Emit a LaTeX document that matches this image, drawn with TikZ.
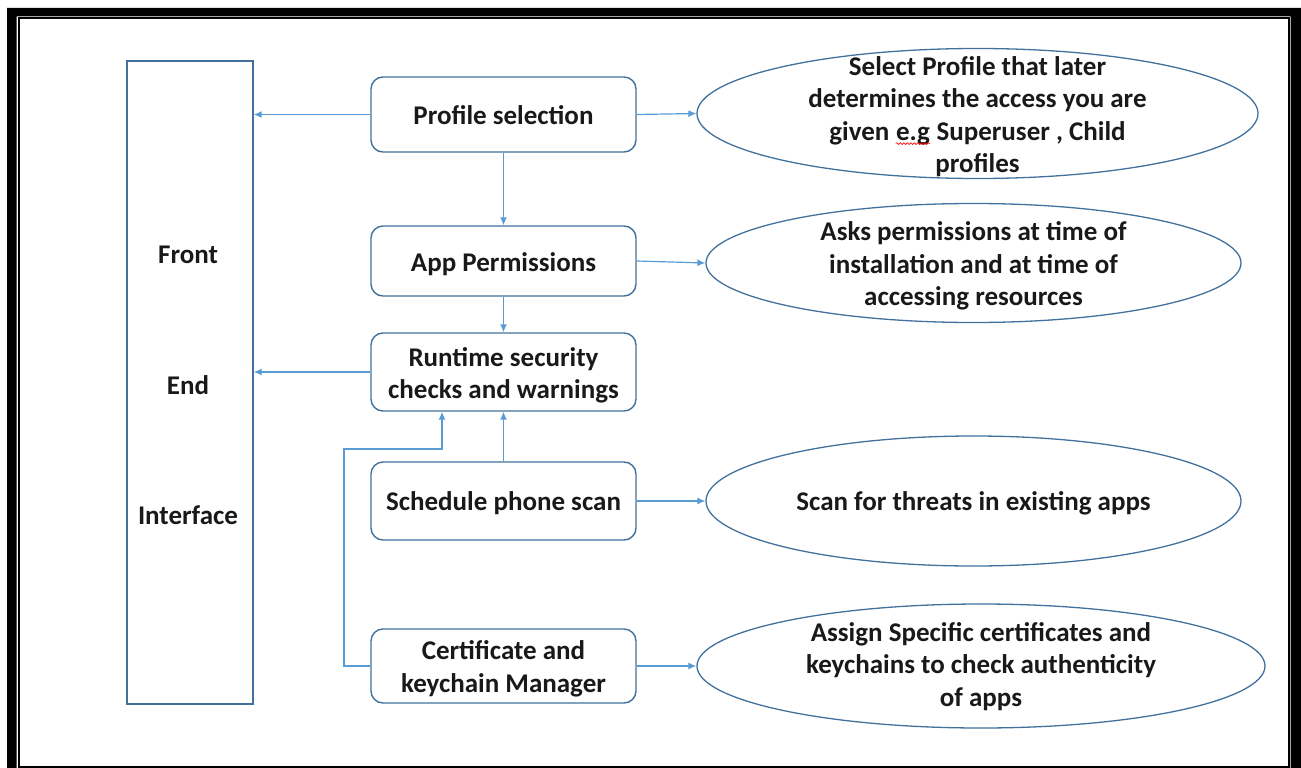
\documentclass[tikz,border=0pt]{standalone}
\usepackage{fontspec}
\setmainfont{Carlito}
\usetikzlibrary{shapes.geometric,arrows.meta,decorations.pathmorphing}
\definecolor{boxline}{HTML}{41719C}
\definecolor{arrline}{HTML}{5B9BD5}
% word with a red wavy spelling mark underneath
\newcommand\spellmark[1]{\tikz[baseline=(sw.base), x=1pt, y=1pt]{%
  \node[shape=rectangle, draw=none, minimum width=0pt, minimum height=0pt, inner sep=0pt, anchor=base] (sw) {#1};
  \draw[red, line width=0.6pt, decorate, decoration={snake, amplitude=0.9pt, segment length=3.5pt}]
    ([yshift=-3.5pt]sw.base west) -- ([yshift=-3.5pt]sw.base east);}}
\tikzset{
  txt/.style={font=\fontsize{27}{32.5}\selectfont\bfseries, text=black!90, align=center, inner sep=0pt},
  stepbox/.style={draw=boxline, line width=1.4pt, rounded corners=12pt,
    minimum width=265pt, minimum height=#1, inner sep=0pt},
  oval/.style={draw=boxline, line width=1.3pt, ellipse, inner sep=0pt},
  arr/.style={draw=arrline, line width=1.2pt, -{Latex[length=8pt,width=7pt]}},
}
\begin{document}
\begin{tikzpicture}[x=1pt,y=-1pt]
\useasboundingbox (0,0) rectangle (1301,768);
% page frame: heavy outer band and thin inner rule
\fill[black, even odd rule] (7,8) rectangle (1320,790) (16.5,16.5) rectangle (1290.5,790);
\draw[black, line width=2pt] (18.5,18.5) rectangle (1288.5,766.5);

% front end column
\node[draw=boxline, line width=1.4pt, minimum width=126pt, minimum height=643pt, inner sep=0pt] (fe) at (190,382.5) {};
\node[txt] (feA) at (188,255) {Front};
\node[txt] (feB) at (188,385) {End};
\node[txt] (feC) at (188,515) {Interface};

% process steps (frames, then their captions set slightly low)
\node[stepbox=75pt] (prof) at (503.5,114.5) {};
\node[stepbox=70pt] (perm) at (503.5,261) {};
\node[stepbox=78pt] (rt) at (503.5,372) {};
\node[stepbox=78pt] (scan) at (503.5,501) {};
\node[stepbox=74pt] (cert) at (503.5,666) {};
\node[txt] (prof-t) at ([yshift=-1pt]prof.center) {Profile selection};
\node[txt] (perm-t) at ([yshift=-3pt]perm.center) {App Permissions};
\node[txt] (rt-t) at ([yshift=-3.5pt]rt.center) {Runtime security\\checks and warnings};
\node[txt] (scan-t) at ([yshift=-2pt]scan.center) {Schedule phone scan};
\node[txt] (cert-t) at ([yshift=-3pt]cert.center) {Certificate and\\keychain Manager};

% descriptions
\node[oval, minimum width=561pt, minimum height=130pt] (d1) at (977.5,113.5) {};
\node[oval, minimum width=535pt, minimum height=119pt] (d2) at (973.5,263) {};
\node[oval, minimum width=535pt, minimum height=130pt] (d3) at (973.5,501) {};
\node[oval, minimum width=568pt, minimum height=124pt] (d4) at (981,666) {};
\node[txt] (d1-t) at (977.5,116.5)
  {Select Profile that later\\determines the access you are\\given \spellmark{e.g} Superuser , Child\\profiles};
\node[txt] (d2-t) at (973.5,266)
  {Asks permissions at time of\\installation and at time of\\accessing resources};
\node[txt] (d3-t) at (973.5,503)
  {Scan for threats in existing apps};
\node[txt] (d4-t) at (981,666.5)
  {Assign Specific certificates and\\keychains to check authenticity\\of apps};

% connectors
\coordinate (bend) at (344,449);
\draw[arr] (prof.west) -- (prof.west -| fe.east);
\draw[arr] (rt.west) -- (rt.west -| fe.east);
\draw[arr] (prof.south) -- (perm.north);
\draw[arr] (perm.south) -- (rt.north);
\draw[arr] (scan.north) -- (rt.south);
\draw[arr] (cert.west) -| (bend) -| ([xshift=-61.5pt]rt.south);
\draw[arr] (prof.east) -- (d1.west);
\draw[arr] (perm.east) -- (d2.west);
\draw[arr] (scan.east) -- (d3.west);
\draw[arr] (cert.east) -- (d4.west);
\end{tikzpicture}
\end{document}
